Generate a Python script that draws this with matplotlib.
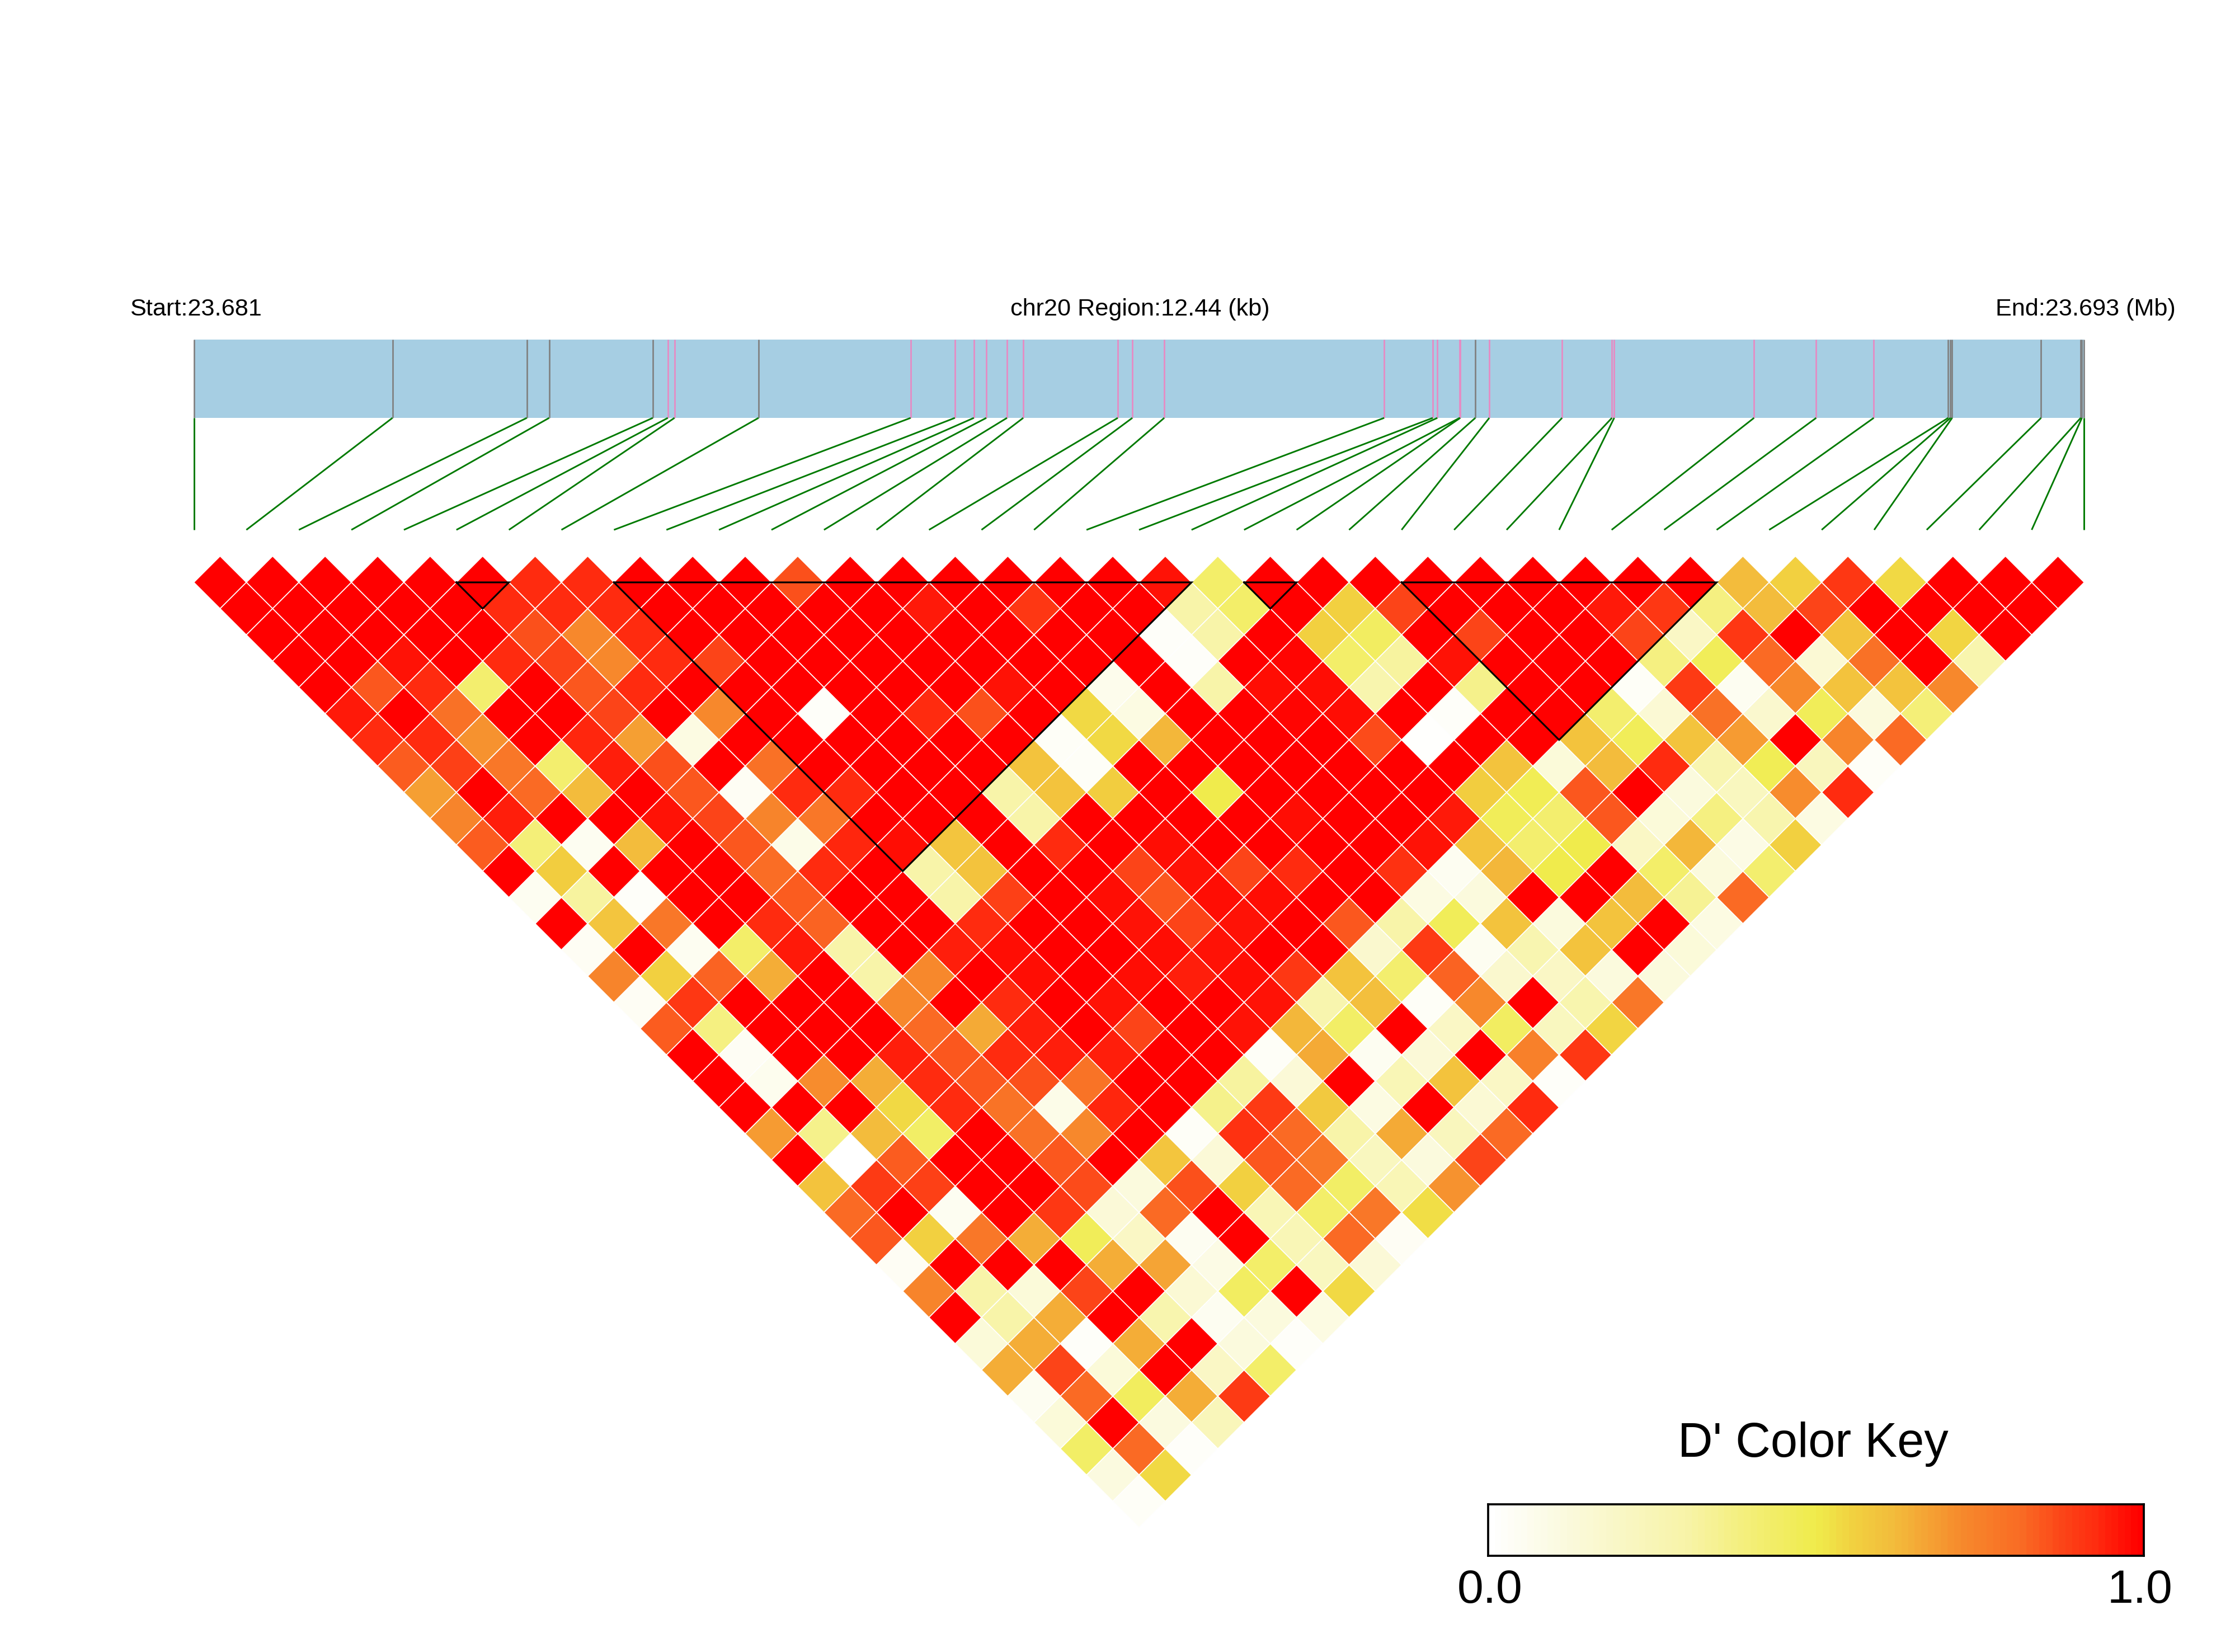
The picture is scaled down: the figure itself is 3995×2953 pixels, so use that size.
"""LD heatmap of D' values for a chr20 region, with gene map and colour key."""
import numpy as np
import matplotlib

matplotlib.use("Agg")
import matplotlib.pyplot as plt
from matplotlib.collections import PolyCollection
from matplotlib.colors import LinearSegmentedColormap

plt.rcParams["font.family"] = ["Liberation Sans", "DejaVu Sans"]

W, H = 3995, 2953
DPI = 300

# SNP positions in kb from region start
snp_pos = [0, 1.307, 2.191, 2.338, 3.020, 3.119, 3.163, 3.716, 4.717, 5.008, 5.133, 5.215,
           5.351, 5.458, 6.080, 6.176, 6.386, 7.833, 8.153, 8.183, 8.330, 8.334, 8.433,
           8.525, 9.004, 9.332, 9.347, 10.267, 10.676, 11.055, 11.545, 11.560, 11.571,
           12.156, 12.417, 12.425, 12.44]
region_kb = 12.44
grey_snps = [0, 1, 2, 3, 4, 7, 22, 30, 31, 32, 33, 34, 35, 36]

# haplotype blocks, (first snp, one past last snp)
blocks = [(5, 6), (8, 19), (20, 21), (23, 29)]

# D' per row of the triangle, top row first
dprime = [
    [1, 1, 1, 1, 1, 1, .93, .93, 1, 1, 1, .86, 1, 1, 1, 1, 1, 1, .97, .43, 1, 1, 1, 1, 1, 1, 1, 1, 1, .62, .56, .91, .54, 1, 1, 1],
    [1, 1, 1, 1, 1, .93, .93, .93, 1, 1, 1, 1, 1, .96, 1, .91, 1, 1, .3, .43, 1, .56, .88, 1, 1, 1, .96, .91, .38, .62, .88, 1, 1, 1, 1],
    [1, 1, 1, 1, 1, .86, .73, .93, 1, 1, 1, 1, 1, 1, 1, 1, 1, .02, .3, 1, .56, .45, 1, .88, 1, 1, .88, .2, .91, 1, .6, 1, .55, 1],
    [1, 1, .97, 1, .93, .88, .73, .93, .88, 1, 1, 1, 1, 1, 1, 1, 1, .02, 1, .99, .43, .32, .97, 1, 1, 1, .38, .47, .82, .15, .8, 1, .28],
    [1, .85, .93, .42, 1, .85, .93, 1, 1, 1, 1, 1, 1, .97, 1, .07, 1, .3, .98, .98, .28, 1, .36, 1, 1, .03, .9, .05, .73, .6, .6, .73],
    [.96, 1, .8, 1, 1, .88, 1, .73, 1, .02, 1, .93, .86, 1, .54, .1, 1, 1, .99, .98, 1, .02, 1, 1, .42, .15, .8, .17, .47, .12, .4],
    [.93, .93, .71, 1, .94, .68, .1, 1, 1, 1, 1, 1, 1, .03, .54, .63, 1, 1, 1, .87, .01, 1, 1, .6, .47, .6, .69, 1, .74, .82],
    [.84, .89, .78, .42, .95, .86, 1, .8, 1, 1, 1, 1, .6, .03, 1, 1, 1, 1, 1, 1, 1, .6, .13, .62, .93, .27, .48, .23, .03],
    [.68, 1, .82, .62, 1, .85, .04, .93, .93, 1, 1, .3, .6, .57, 1, .5, 1, 1, 1, 1, .57, .48, .85, 1, .12, .22, .72, .93],
    [.74, .95, 1, 1, .97, .88, .74, .78, 1, 1, 1, .3, 1, 1, 1, 1, .98, 1, 1, .96, .47, .42, .85, .13, .38, .28, .1],
    [.84, .4, .05, .62, 1, .85, .08, .94, .98, .59, 1, .93, 1, .98, 1, 1, 1, 1, .97, .6, .42, .5, .2, .63, .09, .56],
    [1, .57, 1, 1, 1, .81, .93, 1, .3, .6, 1, 1, .88, .97, .88, .93, 1, .92, .05, .63, .5, 1, .43, .12, .42],
    [.05, .32, .02, 1, 1, .84, 1, 1, .3, .89, 1, .98, .85, .98, .98, 1, 1, .1, .12, 1, 1, .62, .34, .82],
    [1, .59, .78, 1, .93, .83, 1, 1, .93, 1, 1, .97, .88, .97, 1, .85, .3, .47, .6, .12, .6, 1, .1],
    [.04, 1, .05, .43, .96, .3, 1, .95, .98, 1, 1, .98, .97, 1, 1, .17, .9, .05, .27, .6, 1, .13],
    [.74, .56, .83, .65, 1, .3, .73, 1, .98, 1, .98, .95, .98, .91, .6, .42, .83, .17, .2, .12, .12],
    [.04, .91, 1, 1, 1, .73, 1, .93, 1, .97, 1, 1, .97, .28, .61, .03, .73, 1, .28, .78],
    [.84, .38, 1, 1, 1, .82, .66, .95, 1, .88, 1, .97, .63, .44, 1, .2, .45, .22, .55],
    [1, .04, 1, 1, .95, .85, .93, .95, .95, 1, 1, .03, .66, .05, .14, 1, .75, .91],
    [1, .06, .72, .65, .93, .85, .86, .79, 1, 1, .32, .14, 1, .25, .6, .2, .02],
    [1, 1, 1, .54, .93, .79, .08, .94, 1, .36, .9, .58, .1, 1, .15, .93],
    [.69, .36, .62, .44, 1, .8, .73, 1, .03, .92, .82, .3, .66, .23, .82],
    [1, 0, .84, 1, 1, .85, 1, .59, .14, .85, .78, .22, .12, .88],
    [.6, .9, .89, 1, 1, .87, .12, .86, .56, .82, .44, .25, .71],
    [.82, 1, .05, 1, .91, .14, .82, 1, .25, .43, .78, .53],
    [.85, .56, .78, .65, .47, .2, .05, 1, .25, .82, .04],
    [.04, 1, 1, 1, .65, .67, .09, .43, .22, .14],
    [.74, .3, .13, .88, 1, .15, .45, 1, .54],
    [1, .3, .65, 1, .28, .05, .12, .1],
    [.13, .65, .02, .65, 1, .12, .02],
    [.65, .88, .13, 1, .2, .43],
    [.05, .82, .46, .65, .9],
    [.13, 1, .11, .24],
    [.44, .82, .02],
    [.11, .54],
    [.03],
]

ld_cmap = LinearSegmentedColormap.from_list("ld", [
    (0.0, "#FFFFFF"), (0.12, "#FBFADC"), (0.3, "#F8F4A8"), (0.42, "#F3EE6E"),
    (0.5, "#F0EC4C"), (0.56, "#F2D040"), (0.62, "#F3BC3C"), (0.73, "#F7882C"),
    (0.82, "#FA6A24"), (0.88, "#FC4518"), (0.93, "#FF2D10"), (1.0, "#FF0000"),
])

UNIT = 93.86  # pixels per SNP step
X0, Y0 = 346.5, 1041  # pixel of snp 0 / top row centre


def frac(px, py):
    return px / W, 1 - py / H


fig = plt.figure(figsize=((W + 0.01) / DPI, (H + 0.01) / DPI), dpi=DPI)
ax = fig.add_axes([0, 0, 1, 1])
ax.set_xlim(-X0 / UNIT, (W - X0) / UNIT)
ax.set_ylim(-(H - Y0) / UNIT, Y0 / UNIT)
ax.axis("off")

# triangle cells
polys, vals = [], []
for k, row in enumerate(dprime):
    for i, v in enumerate(row):
        cx, cy = i + 0.5 + k / 2, -k / 2
        polys.append([(cx - .5, cy), (cx, cy + .5), (cx + .5, cy), (cx, cy - .5)])
        vals.append(v)
cells = PolyCollection(polys, array=np.array(vals), cmap=ld_cmap, clim=(0, 1),
                       edgecolors="white", linewidths=0.4)
ax.add_collection(cells)

# black outlines of the blocks
for a, b in blocks:
    ax.plot([a, b, (a + b) / 2, a], [0, 0, -(b - a) / 2, 0], color="black", lw=0.75,
            solid_joinstyle="miter", zorder=3)

# gene bar and SNP ticks
bar_low, bar_high, line_low = 3.132, 4.624, 1.0
ax.fill_between([0, 36], bar_low, bar_high, color="#A6CEE3", lw=0)
for s, p in enumerate(snp_pos):
    bx = p / region_kb * 36
    c = "#808080" if s in grey_snps else "#E78AC3"
    ax.plot([bx, bx], [bar_low, bar_high], color=c, lw=0.65, solid_capstyle="butt")
    ax.plot([bx, s], [bar_low, line_low], color="#007A00", lw=0.7, solid_capstyle="butt")

# header labels
x, y = frac(232, 564)
fig.text(x, y, "Start:23.681", fontsize=10.4, ha="left", va="baseline")
x, y = frac(2038, 564)
fig.text(x, y, "chr20 Region:12.44 (kb)", fontsize=10.4, ha="center", va="baseline")
x, y = frac(3889, 564)
fig.text(x, y, "End:23.693 (Mb)", fontsize=10.4, ha="right", va="baseline")

# colour key
kx0, ky0 = frac(2660, 2781)
kx1, ky1 = frac(3832, 2689)
kax = fig.add_axes([kx0, ky0, kx1 - kx0, ky1 - ky0])
kax.imshow(np.linspace(0, 1, 100).reshape(1, -1), cmap=ld_cmap, vmin=0, vmax=1, aspect="auto")
kax.set_xticks([])
kax.set_yticks([])
for sp in kax.spines.values():
    sp.set_linewidth(0.9)

x, y = frac(3241, 2604)
fig.text(x, y, "D' Color Key", fontsize=20.8, ha="center", va="baseline")
x, y = frac(2663, 2865)
fig.text(x, y, "0.0", fontsize=20.2, ha="center", va="baseline")
x, y = frac(3825, 2865)
fig.text(x, y, "1.0", fontsize=20.2, ha="center", va="baseline")

fig.savefig("out.png", dpi=DPI)
plt.close(fig)
